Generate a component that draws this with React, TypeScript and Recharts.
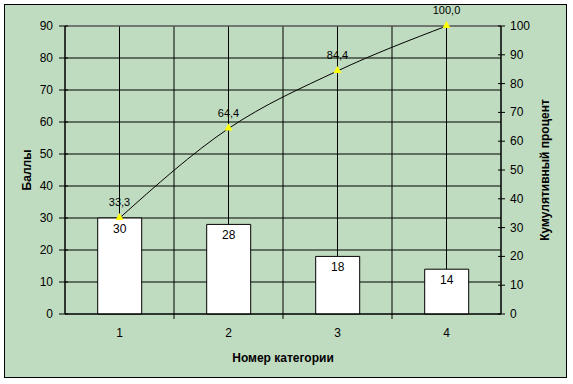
import React from 'react';
import { ComposedChart, Bar, Line, XAxis, YAxis, CartesianGrid, LabelList, ReferenceLine } from 'recharts';

const categories = ['1', '2', '3', '4'];
const scores = [30, 28, 18, 14];
const cumulative = [33.3, 64.4, 84.4, 100.0];
const leftTicks = [0, 10, 20, 30, 40, 50, 60, 70, 80, 90];
const rightTicks = [0, 10, 20, 30, 40, 50, 60, 70, 80, 90, 100];

const data = categories.map((c, i) => ({ category: c, score: scores[i], cum: cumulative[i] }));

const FONT = '"Liberation Sans", Arial, sans-serif';
const BG = '#C0DCC0';

const formatComma = (v: number) => v.toFixed(1).replace('.', ',');

const LeftTick = ({ x, y, payload }: any) => (
  <g>
    <line x1={x - 6} x2={x + 3} y1={y} y2={y} stroke="#000" />
    <text x={x - 12} y={y} dy={4} textAnchor="end" fontSize={12} fill="#000" fontFamily={FONT}>
      {payload.value}
    </text>
  </g>
);

const RightTick = ({ x, y, payload }: any) => (
  <g>
    <line x1={x - 3} x2={x + 4} y1={y} y2={y} stroke="#000" />
    <text x={x + 9} y={y} dy={4} textAnchor="start" fontSize={12} fill="#000" fontFamily={FONT}>
      {payload.value}
    </text>
  </g>
);

// category labels sit at band centres, tick marks go on the band edges
const CategoryTick = ({ x, y, payload, index }: any) => {
  const half = payload.offset || 0;
  return (
    <g>
      {index < categories.length - 1 && (
        <line x1={x + half} x2={x + half} y1={y} y2={y + 5} stroke="#000" />
      )}
      <text x={x} y={y + 23} textAnchor="middle" fontSize={12} fill="#000" fontFamily={FONT}>
        {payload.value}
      </text>
    </g>
  );
};

const TriangleDot = ({ cx, cy }: any) => {
  if (cx == null || cy == null) return null;
  return (
    <polygon
      points={`${cx},${cy - 5} ${cx - 4},${cy + 2} ${cx + 4},${cy + 2}`}
      fill="#FFFF00"
      stroke="none"
    />
  );
};

const rotatedLabel = (text: string, dx: number) => ({ viewBox }: any) => {
  const cx = viewBox.x + dx;
  const cy = viewBox.y + viewBox.height / 2;
  return (
    <text
      x={cx}
      y={cy}
      transform={`rotate(-90 ${cx} ${cy})`}
      textAnchor="middle"
      dominantBaseline="central"
      fontSize={12}
      fontWeight="bold"
      fill="#000"
      fontFamily={FONT}
    >
      {text}
    </text>
  );
};

export default function App() {
  return (
    <div style={{ position: 'absolute', left: 0, top: 0, width: 573, height: 384, background: '#fff' }}>
      <div
        style={{
          position: 'absolute',
          left: 4,
          top: 4,
          width: 563,
          height: 374,
          boxSizing: 'border-box',
          border: '1px solid #000',
          background: BG,
        }}
      />
      <div style={{ position: 'absolute', left: 0, top: 0 }}>
        <ComposedChart
          width={573}
          height={384}
          data={data}
          margin={{ top: 26, right: 12, bottom: 20, left: 5 }}
          barCategoryGap="30%"
          style={{ fontFamily: FONT }}
        >
          <CartesianGrid
            yAxisId="left"
            stroke="#000"
            strokeOpacity={1}
            verticalCoordinatesGenerator={({ offset }: any) =>
              Array.from({ length: 9 }, (_, i) => offset.left + (i * offset.width) / 8)
            }
          />
          <XAxis
            dataKey="category"
            tickSize={0}
            tickMargin={0}
            tickLine={false}
            axisLine={{ stroke: '#000' }}
            tick={<CategoryTick />}
            height={50}
            label={{
              value: 'Номер категории',
              position: 'insideBottom',
              offset: 2,
              fontSize: 12,
              fontWeight: 'bold',
              fill: '#000',
            }}
          />
          <YAxis
            yAxisId="left"
            domain={[0, 90]}
            ticks={leftTicks}
            width={60}
            tickSize={0}
            tickMargin={0}
            tickLine={false}
            axisLine={{ stroke: '#000' }}
            tick={<LeftTick />}
            label={{ content: rotatedLabel('Баллы', 22) }}
          />
          <YAxis
            yAxisId="right"
            orientation="right"
            domain={[0, 100]}
            ticks={rightTicks}
            width={60}
            tickSize={0}
            tickMargin={0}
            tickLine={false}
            axisLine={{ stroke: '#000' }}
            tick={<RightTick />}
            label={{ content: rotatedLabel('Кумулятивный процент', 44) }}
          />
          <ReferenceLine yAxisId="left" y={90} stroke="#808080" />
          <Bar yAxisId="left" dataKey="score" fill="#fff" stroke="#000" strokeWidth={1} isAnimationActive={false}>
            <LabelList dataKey="score" position="insideTop" offset={6} fontSize={12} fill="#000" />
          </Bar>
          <Line
            yAxisId="right"
            type="monotone"
            dataKey="cum"
            stroke="#000"
            strokeWidth={1}
            dot={<TriangleDot />}
            activeDot={false}
            isAnimationActive={false}
          >
            <LabelList dataKey="cum" position="top" offset={12} fontSize={11} fill="#000" formatter={formatComma} />
          </Line>
        </ComposedChart>
      </div>
    </div>
  );
}
